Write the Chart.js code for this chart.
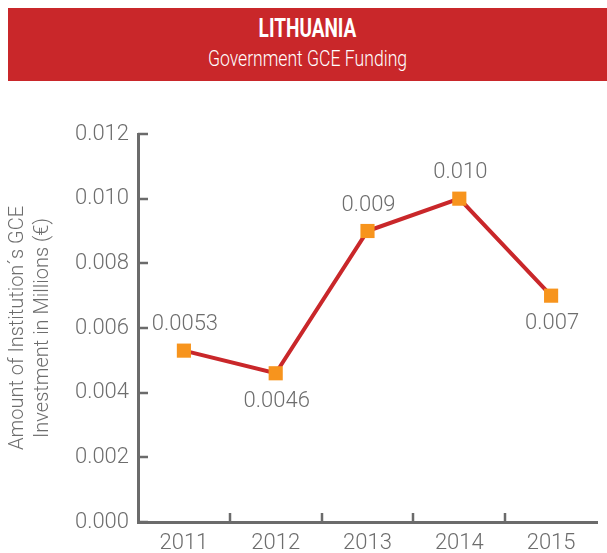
<!DOCTYPE html>
<html>
<head>
<meta charset="utf-8">
<script src="https://cdn.jsdelivr.net/npm/chart.js@4.4.1/dist/chart.umd.min.js"></script>
<style>
  html, body { margin: 0; padding: 0; background: #ffffff; }
  body { width: 607px; height: 553px; position: relative; overflow: hidden; }
  #banner {
    position: absolute; left: 8px; top: 8px; width: 599px; height: 73px;
    background: #c9272a; color: #ffffff; text-align: center;
    font-family: Roboto, "Liberation Sans", sans-serif;
    z-index: 2;
  }
  #banner div { position: absolute; left: 0; right: 0; transform: scaleX(0.76); transform-origin: 50% 50%; }
  #banner .country { top: 6px; font-size: 25px; font-weight: bold; line-height: 30px; }
  #banner .subject { top: 37px; font-size: 22px; font-weight: 300; line-height: 28px; transform: scaleX(0.8); }
  #chart { position: absolute; left: 0; top: 0; }
</style>
</head>
<body>
<div id="banner">
  <div class="country">LITHUANIA</div>
  <div class="subject">Government GCE Funding</div>
</div>
<canvas id="chart" width="607" height="553"></canvas>
<script>
// Government GCE funding, millions of euro, by year
const years = ['2011', '2012', '2013', '2014', '2015'];
const fundingLabels = ['0.0053', '0.0046', '0.009', '0.010', '0.007'];
const funding = fundingLabels.map(Number);
const labelSides = ['above', 'below', 'above', 'above', 'below'];
const yTicks = [0, 0.002, 0.004, 0.006, 0.008, 0.010, 0.012];

const FONT = 'Roboto, "Liberation Sans", sans-serif';
const TEXT = '#6d6d6d';
const AXIS = '#6b6b6b';

// short tick marks pointing into the plot area
const innerTicks = {
  id: 'innerTicks',
  afterDatasetsDraw(chart) {
    const { ctx, chartArea, scales: { x, y } } = chart;
    ctx.save();
    ctx.strokeStyle = AXIS;
    ctx.lineWidth = 2.5;
    ctx.beginPath();
    y.ticks.forEach(t => {
      const py = Math.round(y.getPixelForValue(t.value));
      ctx.moveTo(chartArea.left, py);
      ctx.lineTo(chartArea.left + 10, py);
    });
    for (let i = 0; i < years.length - 1; i++) {
      const px = Math.round((x.getPixelForValue(i) + x.getPixelForValue(i + 1)) / 2);
      ctx.moveTo(px, chartArea.bottom);
      ctx.lineTo(px, chartArea.bottom - 9);
    }
    ctx.stroke();
    ctx.restore();
  }
};

// value labels beside each marker
const valueLabels = {
  id: 'valueLabels',
  afterDatasetsDraw(chart) {
    const { ctx } = chart;
    const meta = chart.getDatasetMeta(0);
    ctx.save();
    ctx.font = '300 22px ' + FONT;
    ctx.fillStyle = TEXT;
    ctx.textAlign = 'center';
    ctx.textBaseline = 'middle';
    meta.data.forEach((pt, i) => {
      const dy = labelSides[i] === 'above' ? -26 : 28;
      ctx.fillText(fundingLabels[i], pt.x + 1, pt.y + dy);
    });
    ctx.restore();
  }
};

new Chart(document.getElementById('chart'), {
  type: 'line',
  data: {
    labels: years,
    datasets: [{
      data: funding,
      borderColor: '#c9272a',
      borderWidth: 4,
      tension: 0,
      pointStyle: 'rect',
      pointRadius: 10,
      pointHoverRadius: 10,
      pointBackgroundColor: '#f7941d',
      pointBorderWidth: 0,
      clip: false
    }]
  },
  options: {
    responsive: false,
    animation: false,
    events: [],
    layout: { padding: { top: 134, right: 0, bottom: 0, left: 0 } },
    plugins: { legend: { display: false }, tooltip: { enabled: false } },
    scales: {
      x: {
        offset: true,
        grid: { display: false },
        border: { display: true, color: AXIS, width: 3 },
        ticks: { color: TEXT, font: { family: FONT, size: 22, weight: 300 }, padding: 0, maxRotation: 0 },
        afterFit(scale) { scale.height = 31; }
      },
      y: {
        min: 0,
        max: 0.012,
        afterBuildTicks(scale) { scale.ticks = yTicks.map(v => ({ value: v })); },
        grid: { display: false },
        border: { display: true, color: AXIS, width: 3 },
        ticks: {
          color: TEXT,
          font: { family: FONT, size: 22, weight: 300 },
          padding: 1,
          callback: v => Number(v).toFixed(3)
        },
        title: {
          display: true,
          text: ['Amount of Institution\u00b4s GCE', 'Investment in Millions (\u20ac)'],
          color: TEXT,
          font: { family: FONT, size: 20, weight: 300, lineHeight: '25px' },
          padding: { top: 5, bottom: 0 }
        },
        afterFit(scale) { scale.width = 138; }
      }
    }
  },
  plugins: [innerTicks, valueLabels]
});
</script>
</body>
</html>
